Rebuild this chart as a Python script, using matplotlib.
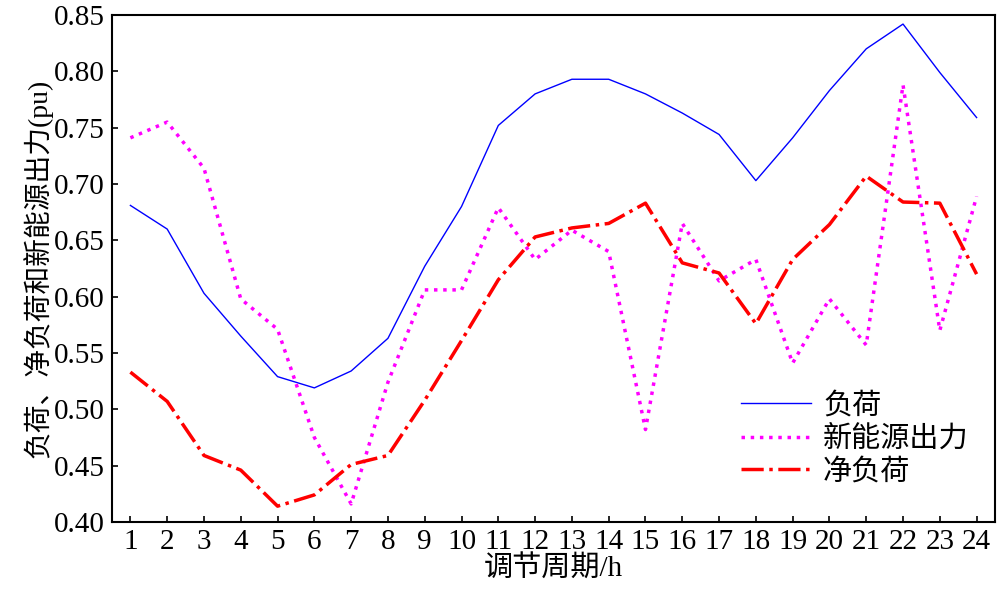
import matplotlib
matplotlib.use('Agg')
import matplotlib.pyplot as plt
import numpy as np

plt.rcParams['font.family'] = ['Liberation Serif', 'Noto Sans CJK SC']
plt.rcParams['font.size'] = 21

hours = np.arange(1, 25)
load = [0.681, 0.660, 0.603, 0.565, 0.529, 0.519, 0.534, 0.563, 0.627, 0.680, 0.752, 0.780,
        0.793, 0.793, 0.780, 0.763, 0.744, 0.703, 0.741, 0.783, 0.820, 0.842, 0.799, 0.759]
renew = [0.741, 0.755, 0.714, 0.598, 0.571, 0.475, 0.416, 0.524, 0.606, 0.606, 0.679, 0.633,
         0.659, 0.640, 0.482, 0.665, 0.614, 0.633, 0.541, 0.598, 0.557, 0.788, 0.570, 0.689]
net = [0.533, 0.507, 0.459, 0.446, 0.414, 0.424, 0.451, 0.459, 0.508, 0.561, 0.615, 0.653,
       0.661, 0.665, 0.683, 0.630, 0.621, 0.576, 0.633, 0.664, 0.707, 0.684, 0.683, 0.620]

fig, ax = plt.subplots(figsize=(10, 6.02), dpi=100)
fig.subplots_adjust(left=0.112, right=0.995, top=0.975, bottom=0.133)
ax.plot(hours, load, color='#0000ff', lw=1.0, label='负荷')
ax.plot(hours, renew, color='#ff00ff', lw=2.5, ls=':', label='新能源出力')
ax.plot(hours, net, color='#ff0000', lw=2.5, ls='-.', label='净负荷')
ax.set_xlim(0.5, 24.5)
ax.set_ylim(0.40, 0.85)
ax.set_xticks(hours)
ax.set_yticks(np.arange(0.40, 0.851, 0.05))
ax.set_yticklabels([f'{v:.2f}' for v in np.arange(0.40, 0.851, 0.05)])
ax.tick_params(direction='in', length=4, width=1.2, pad=5)
for s in ax.spines.values():
    s.set_linewidth(1.5)
ax.set_xlabel('调节周期/h', labelpad=0)
ax.set_ylabel('负荷、净负荷和新能源出力(pu)', labelpad=1, fontsize=20)
ax.legend(loc='lower right', bbox_to_anchor=(1.0, 0.02), frameon=False, fontsize=21,
          handlelength=2.4, labelspacing=0.2, handletextpad=0.4)
fig.savefig('out.png')
